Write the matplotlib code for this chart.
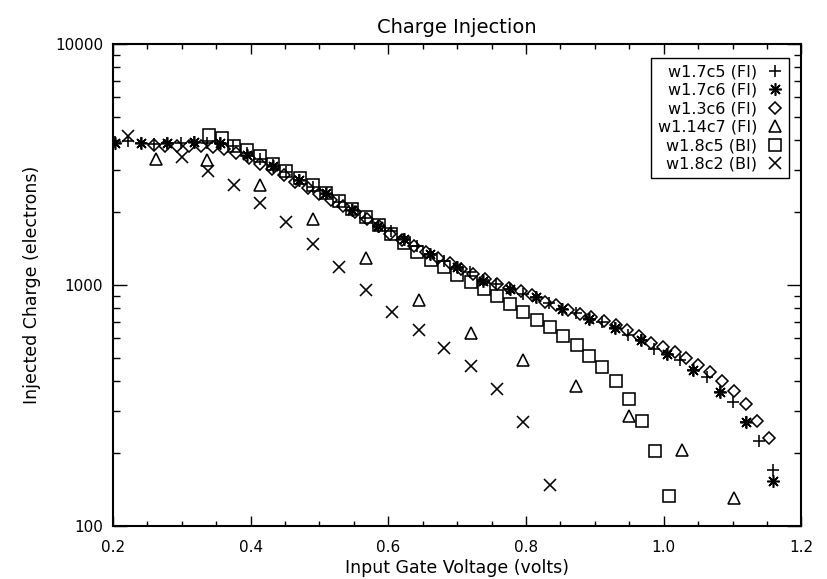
import matplotlib
matplotlib.use('Agg')
import matplotlib.pyplot as plt
from matplotlib.ticker import FixedLocator, FixedFormatter, MultipleLocator, LogLocator, NullFormatter

plt.rcParams['font.family'] = 'DejaVu Sans'

# w1.7c5 (FI)
v_c5 = [0.203, 0.222, 0.241, 0.260, 0.279, 0.299, 0.318, 0.337, 0.356, 0.375,
        0.394, 0.413, 0.432, 0.451, 0.470, 0.490, 0.509, 0.528, 0.547, 0.566,
        0.585, 0.604, 0.623, 0.642, 0.661, 0.681, 0.700, 0.719, 0.738, 0.757,
        0.776, 0.795, 0.814, 0.833, 0.852, 0.872, 0.891, 0.910, 0.929, 0.948,
        0.967, 0.986, 1.005, 1.024, 1.043, 1.063, 1.082, 1.101, 1.120, 1.139, 1.158]
q_c5 = [3909, 3947, 3873, 3855, 3866, 3866, 3928, 3873, 3891, 3764,
        3521, 3341, 3140, 2951, 2721, 2557, 2393, 2217, 2049, 1903,
        1764, 1682, 1553, 1458, 1350, 1263, 1187, 1130, 1054, 1012,
        964, 922, 890, 842, 797, 762, 724, 699, 665, 618,
        589, 544, 515, 487, 443, 415, 360, 327, 270, 226, 171]

# w1.7c6 (FI)
v_c6 = [0.203, 0.241, 0.279, 0.318, 0.356, 0.394, 0.432, 0.470, 0.509, 0.547,
        0.585, 0.623, 0.661, 0.700, 0.738, 0.776, 0.814, 0.852, 0.891, 0.929,
        0.967, 1.005, 1.043, 1.082, 1.120, 1.158]
q_c6 = [3902, 3866, 3866, 3939, 3902, 3470, 3125, 2726, 2399, 2049,
        1764, 1553, 1346, 1185, 1044, 964, 890, 797, 724, 665,
        589, 515, 443, 360, 270, 154]

# w1.3c6 (FI)
v_3c6 = [0.259, 0.276, 0.293, 0.311, 0.328, 0.345, 0.362, 0.379, 0.397, 0.414,
         0.431, 0.448, 0.465, 0.483, 0.500, 0.517, 0.534, 0.551, 0.569, 0.586,
         0.603, 0.620, 0.637, 0.655, 0.672, 0.689, 0.706, 0.723, 0.741, 0.758,
         0.775, 0.792, 0.809, 0.827, 0.844, 0.861, 0.878, 0.895, 0.913, 0.930,
         0.947, 0.964, 0.981, 0.999, 1.016, 1.033, 1.050, 1.067, 1.085, 1.102,
         1.119, 1.136, 1.153]
q_3c6 = [3819, 3782, 3782, 3782, 3764, 3728, 3675, 3538, 3357, 3186,
         3022, 2855, 2683, 2533, 2393, 2259, 2134, 2006, 1886, 1764,
         1635, 1543, 1458, 1376, 1300, 1234, 1170, 1116, 1064, 1014,
         976, 943, 905, 854, 830, 789, 760, 734, 710, 680,
         648, 612, 573, 554, 525, 499, 464, 434, 399, 362,
         322, 273, 232]

# w1.14c7 (FI)
v_14c7 = [0.263, 0.337, 0.414, 0.491, 0.567, 0.644, 0.720, 0.796, 0.873, 0.950,
          1.026, 1.102]
q_14c7 = [3332, 3300, 2599, 1880, 1296, 866, 632, 490, 380, 285, 206, 131]

# w1.8c5 (BI)
v_8c5 = [0.339, 0.358, 0.376, 0.394, 0.414, 0.433, 0.452, 0.472, 0.491, 0.510,
         0.528, 0.547, 0.567, 0.586, 0.604, 0.623, 0.642, 0.662, 0.681, 0.700,
         0.720, 0.739, 0.758, 0.777, 0.796, 0.816, 0.835, 0.854, 0.874, 0.892,
         0.911, 0.930, 0.950, 0.969, 0.988, 1.007]
q_8c5 = [4200, 4070, 3782, 3630, 3438, 3186, 2979, 2774, 2595, 2409,
         2238, 2059, 1912, 1781, 1630, 1490, 1376, 1272, 1185, 1105,
         1027, 964, 899, 838, 774, 718, 667, 615, 562, 508,
         457, 400, 338, 273, 204, 133]

# w1.8c2 (BI)
v_8c2 = [0.222, 0.300, 0.338, 0.376, 0.414, 0.452, 0.491, 0.529, 0.568, 0.605,
         0.644, 0.681, 0.720, 0.758, 0.796, 0.835]
q_8c2 = [4159, 3383, 2959, 2599, 2190, 1820, 1481, 1185, 949, 773,
         648, 550, 461, 369, 269, 148]

x_major = [0.2, 0.4, 0.6, 0.8, 1.0, 1.2]
x_labels = ['0.2', '0.4', '0.6', '0.8', '1.0', '1.2']
y_major = [100, 1000, 10000]
y_labels = ['100', '1000', '10000']

fig = plt.figure(figsize=(8.28, 5.79), dpi=100)
ax = fig.add_axes([0.1364, 0.0915, 0.8315, 0.8325])
ax.set_yscale('log')
ax.set_xlim(0.2, 1.2)
ax.set_ylim(100, 10000)

style = dict(linestyle='none', color='black', markerfacecolor='none',
             markeredgecolor='black', markeredgewidth=1.15)
ax.plot(v_c5, q_c5, marker='+', markersize=9, label='w1.7c5 (FI)', **style)
ax.plot(v_c6, q_c6, marker=(8, 2, 0), markersize=9, label='w1.7c6 (FI)', **style)
ax.plot(v_3c6, q_3c6, marker='D', markersize=6.5, label='w1.3c6 (FI)', **style)
ax.plot(v_14c7, q_14c7, marker='^', markersize=8, label='w1.14c7 (FI)', **style)
ax.plot(v_8c5, q_8c5, marker='s', markersize=8.5, label='w1.8c5 (BI)', **style)
ax.plot(v_8c2, q_8c2, marker='x', markersize=8, label='w1.8c2 (BI)', **style)

ax.xaxis.set_major_locator(FixedLocator(x_major))
ax.xaxis.set_major_formatter(FixedFormatter(x_labels))
ax.xaxis.set_minor_locator(MultipleLocator(0.05))
ax.yaxis.set_major_locator(FixedLocator(y_major))
ax.yaxis.set_major_formatter(FixedFormatter(y_labels))
ax.yaxis.set_minor_locator(LogLocator(base=10, subs=range(2, 10)))
ax.yaxis.set_minor_formatter(NullFormatter())

ax.tick_params(which='both', direction='in', top=True, right=True,
               labelsize=11, width=1.0)
ax.tick_params(axis='x', which='both', pad=10)
ax.tick_params(axis='y', which='both', pad=7)
ax.tick_params(axis='x', which='major', length=7)
ax.tick_params(axis='x', which='minor', length=3.5)
ax.tick_params(axis='y', which='major', length=10)
ax.tick_params(axis='y', which='minor', length=5)
for side in ax.spines.values():
    side.set_linewidth(1.5)

ax.set_title('Charge Injection', fontsize=14, pad=8)
ax.set_xlabel('Input Gate Voltage (volts)', fontsize=12.5, labelpad=3)
ax.set_ylabel('Injected Charge (electrons)', fontsize=12.5, labelpad=10)

leg = ax.legend(loc='upper right', bbox_to_anchor=(789 / 828, 1 - 58 / 579),
                bbox_transform=fig.transFigure, borderaxespad=0,
                markerfirst=False, alignment='right', fancybox=False,
                framealpha=1, edgecolor='black', fontsize=11.5,
                handlelength=1.0, handletextpad=0.6, labelspacing=0.22,
                borderpad=0.4)
leg.get_frame().set_linewidth(1.0)

fig.savefig('out.png', dpi=100)
